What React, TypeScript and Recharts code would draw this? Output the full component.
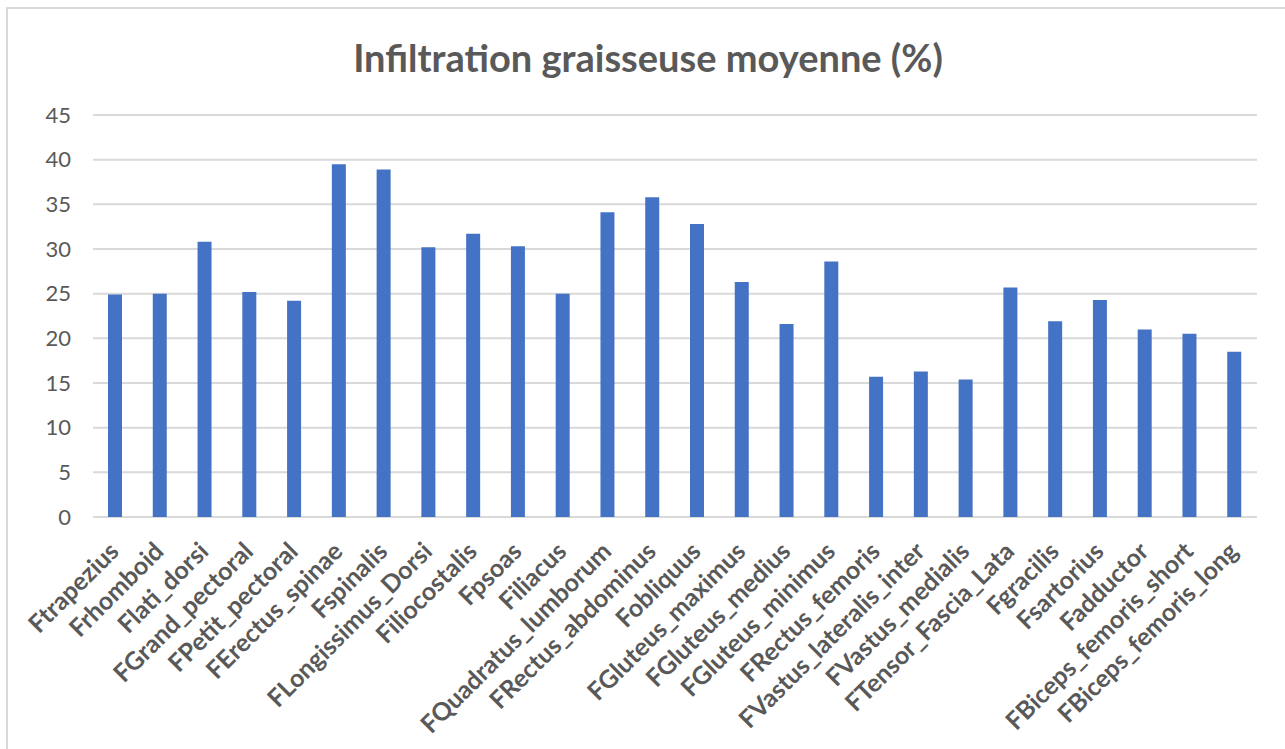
import React from 'react';
import { BarChart, Bar, XAxis, YAxis, CartesianGrid } from 'recharts';

// --- Data ---

const muscles = [
    'Ftrapezius', 'Frhomboid', 'Flati_dorsi', 'FGrand_pectoral', 'FPetit_pectoral',
    'FErectus_spinae', 'Fspinalis', 'FLongissimus_Dorsi', 'Filiocostalis', 'Fpsoas',
    'Filiacus', 'FQuadratus_lumborum', 'FRectus_abdominus', 'Fobliquus', 'FGluteus_maximus',
    'FGluteus_medius', 'FGluteus_minimus', 'FRectus_femoris', 'FVastus_lateralis_inter', 'FVastus_medialis',
    'FTensor_Fascia_Lata', 'Fgracilis', 'Fsartorius', 'Fadductor', 'FBiceps_femoris_short',
    'FBiceps_femoris_long',
];

const fatInfiltration = [
    24.9, 25.0, 30.8, 25.2, 24.2,
    39.5, 38.9, 30.2, 31.7, 30.3,
    25.0, 34.1, 35.8, 32.8, 26.3,
    21.6, 28.6, 15.7, 16.3, 15.4,
    25.7, 21.9, 24.3, 21.0, 20.5,
    18.5,
];

const yTicks = [0, 5, 10, 15, 20, 25, 30, 35, 40, 45];

const chartData = muscles.map((name, i) => ({ name, value: fatInfiltration[i] }));

const FONT = 'Lato, "Open Sans", sans-serif';
const GRAY = '#595959';

// rotated category label, anchored at its end like Excel does
const MuscleTick = (props: any) => {
    const { x, y, payload } = props;
    return (
        <g transform={`translate(${x + 5},${y + 28}) rotate(-45)`}>
            <text x={0} y={0} textAnchor="end" fill={GRAY} fontSize={25} fontWeight={700} fontFamily={FONT}>
                {payload.value}
            </text>
        </g>
    );
};

export default function App() {
    return (
        <div style={{ position: 'fixed', left: 0, top: 0, width: 1285, height: 749, overflow: 'hidden', background: '#fff' }}>
            <div style={{ position: 'absolute', left: 6, top: 7, width: 1400, height: 900, border: '2px solid #d9d9d9' }} />
            <div
                style={{
                    position: 'absolute', left: 0, top: 34, width: 1296, textAlign: 'center',
                    fontFamily: FONT, fontWeight: 700, fontSize: 38, color: GRAY, lineHeight: '46px',
                }}
            >
                Infiltration graisseuse moyenne (%)
            </div>
            <div style={{ position: 'absolute', left: 0, top: 0 }}>
                <BarChart width={1285} height={749} data={chartData} margin={{ top: 115, right: 28, bottom: 0, left: 0 }}>
                    <CartesianGrid vertical={false} stroke="#d9d9d9" strokeWidth={2} />
                    <XAxis
                        dataKey="name"
                        interval={0}
                        height={232}
                        axisLine={false}
                        tickLine={false}
                        tick={<MuscleTick />}
                    />
                    <YAxis
                        width={93}
                        domain={[0, 45]}
                        ticks={yTicks}
                        axisLine={false}
                        tickLine={false}
                        tickMargin={16}
                        tick={{ fill: GRAY, fontSize: 22, fontFamily: FONT }}
                    />
                    <Bar dataKey="value" fill="#4472c4" barSize={14} isAnimationActive={false} />
                </BarChart>
            </div>
        </div>
    );
}
